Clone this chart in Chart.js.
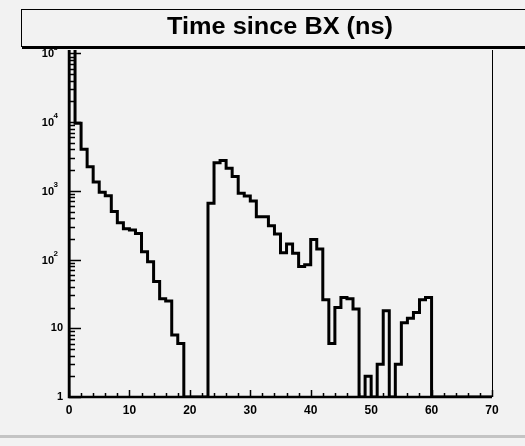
<!DOCTYPE html>
<html>
<head>
<meta charset="utf-8">
<script src="https://cdn.jsdelivr.net/npm/chart.js@4/dist/chart.umd.min.js"></script>
<style>
  html, body { margin: 0; padding: 0; background: #f2f2f2; }
  canvas { display: block; }
</style>
</head>
<body>
<canvas id="hist" width="525" height="446"></canvas>
<script>
// histogram data: one count per 1 ns bin, starting at 0 ns
var title = "Time since BX (ns)";
var binWidth = 1;
var counts = [
  150000, 9600, 4040, 2250, 1340, 950, 850, 500, 344, 280,
  270, 240, 130, 93, 48, 27, 25, 8, 6, 0,
  0, 0, 0, 660, 2570, 2760, 2130, 1610, 920, 840,
  710, 420, 420, 310, 235, 126, 169, 123, 79, 84,
  195, 143, 26, 6, 20, 28, 27, 19, 0, 2,
  0, 3, 18, 0, 3, 12, 14, 17, 26, 28,
  0, 0, 0, 0, 0, 0, 0, 0, 0, 0
];
var xTicks = [0, 10, 20, 30, 40, 50, 60, 70];
var yTicks = [1, 10, 100, 1000, 10000, 100000];
var yMin = 1, yMax = 112000;

// empty bins sit on the bottom of the log axis, like ROOT does
var points = [{ x: 0, y: yMin }];
counts.forEach(function (c, i) {
  points.push({ x: i * binWidth, y: Math.max(c, yMin) });
});
points.push({ x: counts.length * binWidth, y: Math.max(counts[counts.length - 1], yMin) });

var labelFont = "'Liberation Sans', Arial, sans-serif";

var rootFrame = {
  id: "rootFrame",
  beforeDraw: function (chart) {
    var ctx = chart.ctx;
    ctx.save();
    ctx.fillStyle = "#f2f2f2";
    ctx.fillRect(0, 0, chart.width, chart.height);
    ctx.fillStyle = "#c4c4c4";
    ctx.fillRect(0, 435, chart.width, 3);
    ctx.restore();
  },
  afterDraw: function (chart) {
    var ctx = chart.ctx, a = chart.chartArea;
    var xs = chart.scales.x, ys = chart.scales.y;
    ctx.save();
    ctx.strokeStyle = "#000";

    // inward ticks on the y axis
    ctx.lineWidth = 1.5;
    ctx.beginPath();
    for (var e = 0; e <= 5; e++) {
      for (var m = 1; m <= 9; m++) {
        var v = m * Math.pow(10, e);
        if (v < yMin || v > yMax) continue;
        var py = Math.round(ys.getPixelForValue(v)) + 0.5;
        ctx.moveTo(a.left, py);
        ctx.lineTo(a.left + (m === 1 ? 12 : 6), py);
      }
    }
    // inward ticks on the x axis
    for (var t = 0; t <= 70; t += 2) {
      var px = Math.round(xs.getPixelForValue(t)) + 0.5;
      ctx.moveTo(px, a.bottom);
      ctx.lineTo(px, a.bottom - (t % 10 === 0 ? 7 : 4));
    }
    ctx.stroke();

    // y labels, ROOT style 10^n
    ctx.fillStyle = "#000";
    ctx.textBaseline = "middle";
    yTicks.forEach(function (v) {
      var y = ys.getPixelForValue(v);
      var n = Math.round(Math.log10(v));
      ctx.textAlign = "right";
      if (n <= 1) {
        ctx.font = "bold 11px " + labelFont;
        ctx.fillText(String(v), a.left - 6, y);
      } else {
        ctx.font = "bold 8px " + labelFont;
        ctx.fillText(String(n), a.left - 11, y - 6);
        ctx.font = "bold 11px " + labelFont;
        ctx.fillText("10", a.left - 15, y + 1);
      }
    });

    // frame
    ctx.lineWidth = 2.5;
    ctx.beginPath();
    ctx.moveTo(a.left, a.top);
    ctx.lineTo(a.left, a.bottom);
    ctx.lineTo(a.right, a.bottom);
    ctx.stroke();
    ctx.lineWidth = 1;
    ctx.beginPath();
    ctx.moveTo(a.right + 0.5, a.top);
    ctx.lineTo(a.right + 0.5, a.bottom);
    ctx.stroke();

    // title box
    ctx.fillStyle = "#f2f2f2";
    ctx.fillRect(21, 9, 540, 40);
    ctx.lineWidth = 1;
    ctx.strokeRect(21.5, 9.5, 540, 37);
    ctx.fillStyle = "#000";
    ctx.fillRect(22, 46, 540, 3);
    ctx.font = "bold 23px " + labelFont;
    ctx.textAlign = "center";
    ctx.textBaseline = "middle";
    var stretch = 226 / ctx.measureText(title).width;
    ctx.translate(280, 28);
    ctx.scale(stretch, 1);
    ctx.fillText(title, 0, 0);
    ctx.restore();
  }
};

new Chart(document.getElementById("hist"), {
  type: "line",
  data: {
    datasets: [{
      data: points,
      stepped: "before",
      borderColor: "#000",
      borderWidth: 3,
      pointRadius: 0,
      fill: false
    }]
  },
  options: {
    responsive: false,
    animation: false,
    layout: { padding: { left: 20, right: 33, top: 50, bottom: 0 } },
    plugins: { legend: { display: false }, tooltip: { enabled: false } },
    scales: {
      x: {
        type: "linear",
        min: 0,
        max: 70,
        grid: { display: false, drawTicks: false },
        border: { display: false },
        afterBuildTicks: function (axis) {
          axis.ticks = xTicks.map(function (v) { return { value: v }; });
        },
        afterFit: function (scale) { scale.height = 49; },
        ticks: {
          padding: 6,
          color: "#000",
          maxRotation: 0,
          font: { family: labelFont, size: 12, weight: "bold" }
        }
      },
      y: {
        type: "logarithmic",
        min: yMin,
        max: yMax,
        grid: { display: false, drawTicks: false },
        border: { display: false },
        afterBuildTicks: function (axis) {
          axis.ticks = yTicks.map(function (v) { return { value: v }; });
        },
        afterFit: function (scale) { scale.width = 49; },
        ticks: { display: false }
      }
    }
  },
  plugins: [rootFrame]
});
</script>
</body>
</html>
